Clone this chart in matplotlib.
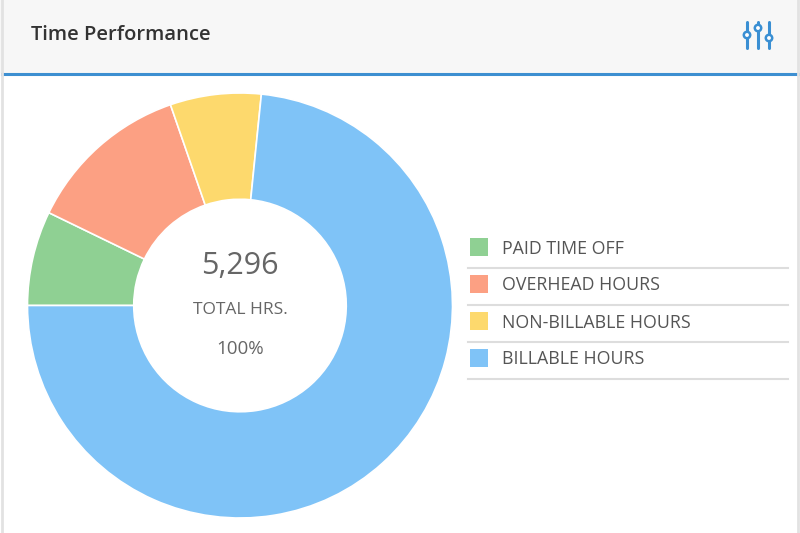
import matplotlib.pyplot as plt
from matplotlib.patches import Rectangle, Circle

# donnees du graphique
categories = ['PAID TIME OFF', 'OVERHEAD HOURS', 'NON-BILLABLE HOURS', 'BILLABLE HOURS']
hours = [381, 662, 366, 3887]
colors = ['#8fd093', '#fca083', '#fdd96d', '#7fc3f7']
title = 'Time Performance'
center_label = 'TOTAL HRS.'
center_pct = '100%'

plt.rcParams['font.family'] = ['Open Sans', 'DejaVu Sans']

W, H = 800, 533
fig = plt.figure(figsize=(W / 100, H / 100), dpi=100)
fig.patch.set_facecolor('white')

# fond, entete et bordures (coordonnees en pixels)
bg = fig.add_axes([0, 0, 1, 1], zorder=0)
bg.set_xlim(0, W)
bg.set_ylim(H, 0)
bg.axis('off')
bg.add_patch(Rectangle((0, 0), W, 73, facecolor='#f7f7f7', edgecolor='none'))
bg.plot([2, W], [74, 74], color='#3d8fd1', lw=2.2)
bg.plot([1.5, 1.5], [0, H], color='#e2e2e2', lw=2)
bg.plot([797.5, 797.5], [0, H], color='#e2e2e2', lw=2)
bg.text(31, 35, title, fontsize=14.5, fontweight='semibold', color='#333333',
        va='center', ha='left')

# icone reglages
blue = '#3a8fd3'
for x, cy in [(747, 35), (758, 28), (769, 38)]:
    bg.plot([x, x], [22, 48], color=blue, lw=2.2, solid_capstyle='round')
    bg.add_patch(Circle((x, cy), 3.2, facecolor='white', edgecolor=blue, lw=1.8, zorder=5))

# legende
legend_y = [247, 284, 321, 358]
for cat, col, y in zip(categories, colors, legend_y):
    bg.add_patch(Rectangle((470, y - 9), 18, 18, facecolor=col, edgecolor='none'))
    bg.text(502, y + 1.5, cat, fontsize=12.8, color='#555555', va='center', ha='left')
    bg.plot([468, 788], [y + 21, y + 21], color='#dddddd', lw=1.5)

# donut
cx, cy, r = 240, 305.5, 212.5
ax = fig.add_axes([(cx - r) / W, (H - cy - r) / H, 2 * r / W, 2 * r / H], zorder=1)
ax.pie(hours, colors=colors, startangle=180, counterclock=False, radius=1,
       wedgeprops=dict(width=0.5, edgecolor='white', linewidth=1.2))
ax.set_xlim(-1, 1)
ax.set_ylim(-1, 1)
ax.set_aspect('equal')
ax.axis('off')

total = sum(hours)
ax.text(0, 0.185, f'{total:,}', fontsize=22, color='#666666', ha='center', va='center')
ax.text(0, -0.02, center_label, fontsize=12.5, color='#666666', ha='center', va='center')
ax.text(0, -0.205, center_pct, fontsize=13.5, color='#666666', ha='center', va='center')

fig.savefig('out.png', dpi=100)
